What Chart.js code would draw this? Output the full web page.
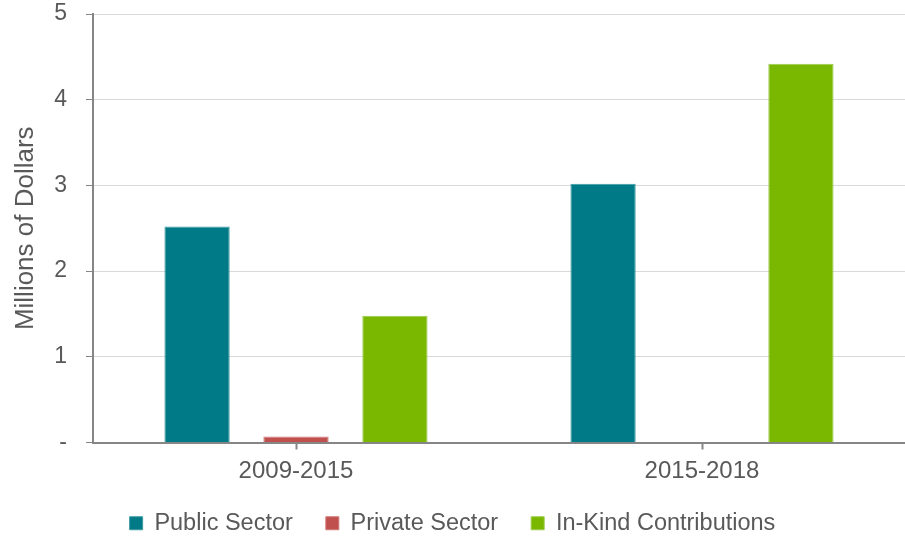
<!DOCTYPE html>
<html>
<head>
<meta charset="utf-8">
<script src="https://cdn.jsdelivr.net/npm/chart.js@4/dist/chart.umd.min.js"></script>
<style>
  html, body { margin: 0; padding: 0; background: #ffffff; }
  #wrap { width: 905px; height: 538px; position: relative; }
</style>
</head>
<body>
<div id="wrap"><canvas id="chart"></canvas></div>
<script>
const categories = ['2009-2015', '2015-2018'];
const publicSector = [2.52, 3.02];
const privateSector = [0.07, 0];
const inKind = [1.48, 4.42];
const yTicks = [0, 1, 2, 3, 4, 5];

const textColor = '#595959';
const axisColor = '#868686';
const fontFamily = 'Liberation Sans, Arial, sans-serif';

new Chart(document.getElementById('chart').getContext('2d'), {
    type: 'bar',
    data: {
        labels: categories,
        datasets: [
            { label: 'Public Sector', data: publicSector, backgroundColor: '#007A87', borderColor: '#3d9aa3', borderWidth: 1 },
            { label: 'Private Sector', data: privateSector, backgroundColor: '#C0504D', borderColor: '#d07a78', borderWidth: 1 },
            { label: 'In-Kind Contributions', data: inKind, backgroundColor: '#7AB800', borderColor: '#9ccb4a', borderWidth: 1 },
        ],
    },
    options: {
        responsive: true,
        maintainAspectRatio: false,
        animation: false,
        categoryPercentage: 0.731,
        barPercentage: 0.66,
        // negative bottom padding pulls the legend down to where the original has it
        layout: { padding: { top: 0, right: 0, bottom: -7, left: 0 } },
        plugins: {
            tooltip: { enabled: false },
            legend: {
                position: 'bottom',
                labels: {
                    color: textColor,
                    font: { family: fontFamily, size: 23.5 },
                    boxWidth: 13,
                    boxHeight: 13,
                    padding: 33,
                },
            },
        },
        scales: {
            x: {
                grid: {
                    display: true,
                    drawOnChartArea: false,
                    offset: false,
                    tickLength: 7,
                    tickColor: axisColor,
                    tickWidth: 2,
                },
                border: { color: axisColor, width: 2 },
                ticks: {
                    color: textColor,
                    padding: 7,
                    font: { family: fontFamily, size: 24 },
                },
                afterFit: (scale) => { scale.height = 36; },
            },
            y: {
                min: 0,
                max: 5,
                afterBuildTicks: (scale) => { scale.ticks = yTicks.map(v => ({ value: v })); },
                grid: {
                    color: '#d9d9d9',
                    tickColor: axisColor,
                    tickLength: 7,
                    lineWidth: 1,
                },
                border: { color: axisColor, width: 2 },
                ticks: {
                    color: textColor,
                    padding: 19,
                    font: { family: fontFamily, size: 23 },
                    callback: (v) => (v === 0 ? '-' : String(v)),
                },
                title: {
                    display: true,
                    text: 'Millions of Dollars',
                    color: textColor,
                    font: { family: fontFamily, size: 26 },
                    padding: { top: 10, bottom: 0 },
                },
                afterFit: (scale) => {
                    scale.width = 93;
                    scale.paddingTop = 14;
                    scale.paddingBottom = 0;
                },
            },
        },
    },
});
</script>
</body>
</html>
